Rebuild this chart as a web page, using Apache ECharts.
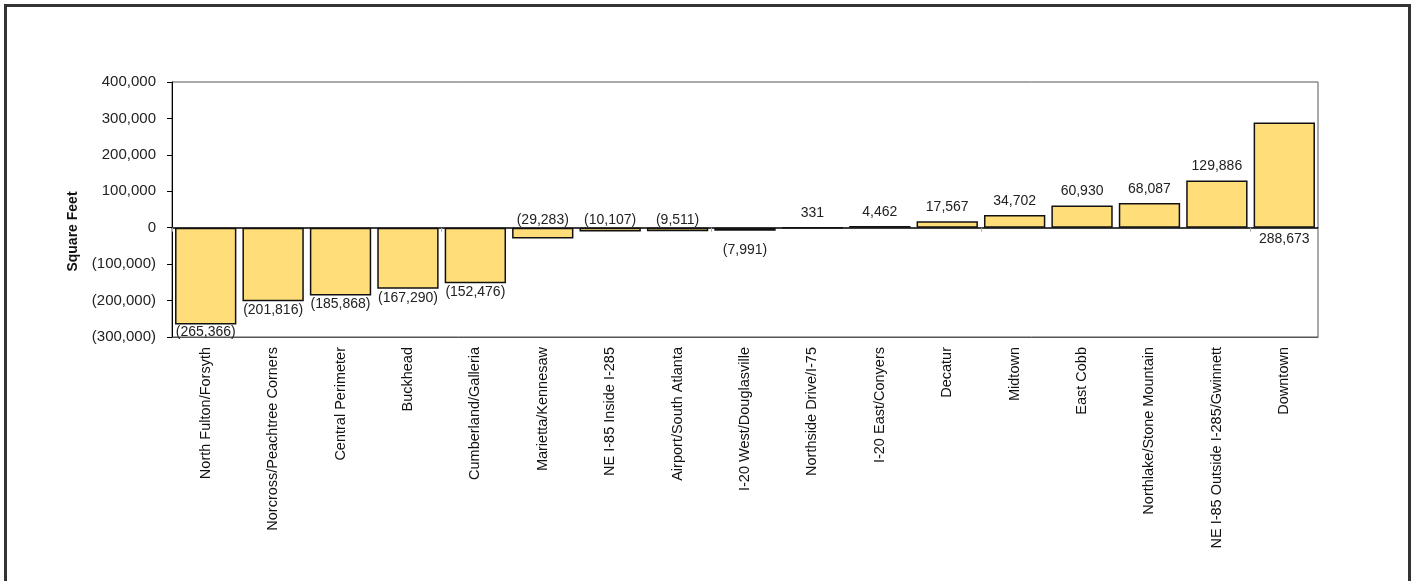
<!DOCTYPE html>
<html>
<head>
<meta charset="utf-8">
<script src="https://cdn.jsdelivr.net/npm/echarts@6/dist/echarts.min.js"></script>
<style>
html,body{margin:0;padding:0;background:#fff;}
#frame{position:absolute;left:4px;top:4px;width:1401px;height:600px;border:3px solid #333;border-bottom:none;}
#chart{position:absolute;left:0;top:0;width:1413px;height:581px;}
</style>
</head>
<body>
<div id="frame"></div>
<div id="chart"></div>
<script>
const categories = ["North Fulton/Forsyth","Norcross/Peachtree Corners","Central Perimeter","Buckhead","Cumberland/Galleria","Marietta/Kennesaw","NE I-85 Inside I-285","Airport/South Atlanta","I-20 West/Douglasville","Northside Drive/I-75","I-20 East/Conyers","Decatur","Midtown","East Cobb","Northlake/Stone Mountain","NE I-85 Outside I-285/Gwinnett","Downtown"];
const values = [-265366,-201816,-185868,-167290,-152476,-29283,-10107,-9511,-7991,331,4462,17567,34702,60930,68087,129886,288673];
const yTicks = [-300000,-200000,-100000,0,100000,200000,300000,400000];
// label placement as in the reference: 'top' = above the bar, 'bottom' = below
const labelPos = ['bottom','bottom','bottom','bottom','bottom','top','top','top','bottom','top','top','top','top','top','top','top','bottom'];

function fmt(v){
  const s = Math.abs(v).toLocaleString('en-US');
  return v < 0 ? '(' + s + ')' : s;
}

const chart = echarts.init(document.getElementById('chart'));
const font = 'Liberation Sans, Arial, sans-serif';
const data = values.map((v,i)=>{
  const pos = labelPos[i];
  let dist;
  if (pos === 'top') dist = v < 0 ? 1 : 7;
  else dist = v < 0 ? (i === 0 ? 1 : (i === 8 ? 13 : 2)) : 4;
  return { value: v, label: { position: pos, distance: dist } };
});

chart.setOption({
  animation:false,
  grid:{left:172, top:82, width:1146, height:255, show:true, borderColor:'#555', borderWidth:1, containLabel:false},
  xAxis:[{
    type:'category', data:categories, position:'bottom',
    axisLine:{show:true, onZero:false, lineStyle:{color:'#555', width:1}},
    axisTick:{show:false},
    axisLabel:{rotate:90, interval:0, margin:10, color:'#111', fontFamily:font, fontSize:14.5}
  },{
    type:'category', data:categories, position:'bottom',
    axisLine:{show:true, onZero:true, lineStyle:{color:'#000', width:1.5}},
    axisTick:{show:true, inside:false, length:4, lineStyle:{color:'#aaa'}},
    axisLabel:{show:false}
  }],
  yAxis:{
    type:'value', min:-300000, max:400000, interval:100000,
    name:'Square Feet', nameLocation:'middle', nameGap:92, nameRotate:90,
    nameTextStyle:{fontFamily:font, fontSize:14, fontWeight:'bold', color:'#111', padding:[0,44,0,0]},
    axisLine:{show:true, lineStyle:{color:'#000', width:1}},
    axisTick:{show:true, length:5, lineStyle:{color:'#000'}},
    splitLine:{show:false},
    axisLabel:{margin:16, color:'#222', fontFamily:font, fontSize:15, formatter:fmt,
      customValues: yTicks}
  },
  series:[{
    type:'bar', xAxisIndex:0, data:data, barCategoryGap:'9%',
    itemStyle:{color:'#FFDE7A', borderColor:'#111', borderWidth:1.5},
    label:{show:true, color:'#222', fontFamily:font, fontSize:14,
      formatter:(p)=>fmt(p.value)}
  }]
});
</script>
</body>
</html>
